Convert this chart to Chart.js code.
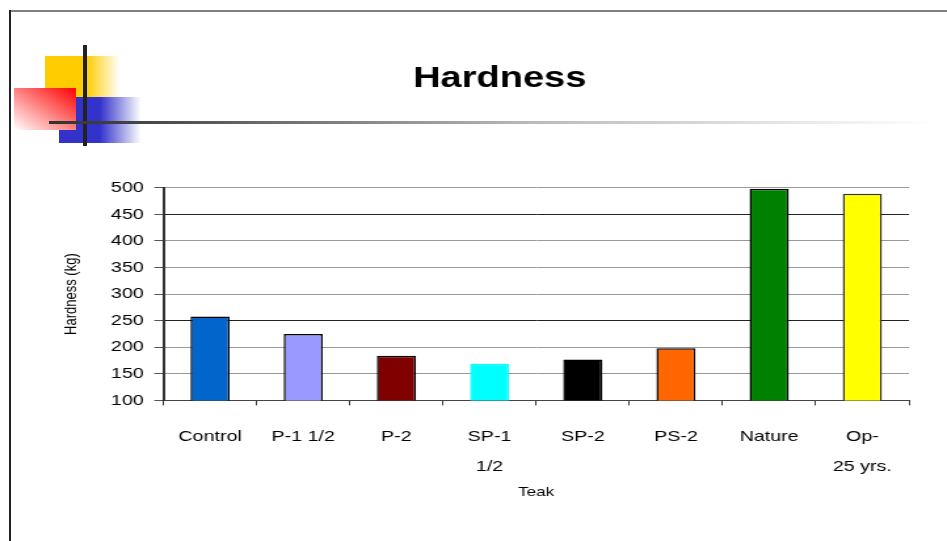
<!DOCTYPE html>
<html><head><meta charset="utf-8">
<script src="https://cdn.jsdelivr.net/npm/chart.js@4"></script>
<style>
html,body{margin:0;padding:0;background:#fff;width:947px;height:541px;overflow:hidden;position:relative}
.d{position:absolute}
#wrap{position:absolute;left:0;top:0;width:722px;height:541px;transform:scaleX(1.3116);transform-origin:0 0}
</style></head><body>
<div class="d" style="left:9px;top:10px;width:938px;height:2px;background:#808080"></div>
<div class="d" style="left:9px;top:10px;width:2px;height:531px;background:#222"></div>
<div class="d" style="left:45px;top:56px;width:75px;height:41px;background:linear-gradient(to right,#FFCC00 0%,#FFCC00 55%,rgba(255,204,0,0) 100%)"></div>
<div class="d" style="left:59px;top:97px;width:82px;height:46px;background:linear-gradient(to right,#3333CC 0%,#3333CC 50%,rgba(51,51,204,0) 100%)"></div>
<div class="d" style="left:14px;top:88px;width:62px;height:42px;background:linear-gradient(to bottom left,#FF0000 0%,#FFFFFF 100%)"></div>
<div class="d" style="left:83px;top:45px;width:4px;height:101px;background:#222"></div>
<div class="d" style="left:49px;top:121px;width:885px;height:3px;background:linear-gradient(to right,#333 0%,#444 10%,#bbb 55%,rgba(255,255,255,0) 100%)"></div>
<div id="wrap"><canvas id="c"></canvas></div>
<script>
const categories = ['Control', 'P-1 1/2', 'P-2', ['SP-1', '1/2'], 'SP-2', 'PS-2', 'Nature', ['Op-', '25 yrs.']];
const hardness = [258, 225, 184, 169, 177, 198, 498, 489];
const barColors = ['#0066CC', '#9999FF', '#800000', '#00FFFF', '#000000', '#FF6600', '#008000', '#FFFF00'];
const barBorders = ['#000', '#000', '#000', '#00FFFF', '#000', '#000', '#000', '#333'];
const chartTitle = 'Hardness';
const yTitle = 'Hardness (kg)';
const xTitle = 'Teak';

const FONT = "'Liberation Sans', Arial, sans-serif";
Chart.defaults.color = '#000';
Chart.defaults.font.family = FONT;

const shiftTitle = {
  id: 'shiftTitle',
  afterLayout(chart) { if (chart.titleBlock) chart.titleBlock.left += 26; }
};

new Chart(document.getElementById('c'), {
  type: 'bar',
  data: {
    labels: categories,
    datasets: [{
      data: hardness,
      backgroundColor: barColors,
      borderColor: barBorders,
      borderWidth: 1.5,
      barPercentage: 0.42,
      categoryPercentage: 1
    }]
  },
  options: {
    responsive: true,
    maintainAspectRatio: false,
    animation: false,
    layout: { padding: { left: 43, right: 29, top: 0, bottom: 37 } },
    plugins: {
      legend: { display: false },
      tooltip: { enabled: false },
      title: {
        display: true,
        text: chartTitle,
        font: { size: 29, weight: 'bold', family: FONT },
        color: '#000',
        padding: { top: 62, bottom: 91 }
      }
    },
    scales: {
      x: {
        grid: {
          offset: true,
          drawOnChartArea: true,
          color: ctx => (ctx.index === 0 || ctx.index === categories.length) ? '#999' : 'rgba(0,0,0,0)',
          tickColor: '#333',
          tickLength: 5
        },
        border: { color: '#444', width: 1 },
        ticks: { font: { size: 15, lineHeight: 2 }, padding: 16, maxRotation: 0, autoSkip: false },
        title: { display: true, text: xTitle, font: { size: 13 }, padding: { top: -13, bottom: 4 } }
      },
      y: {
        min: 100,
        max: 500,
        ticks: { stepSize: 50, font: { size: 15 }, padding: 8 },
        grid: {
          color: ctx => (ctx.tick && (ctx.tick.value === 250 || ctx.tick.value === 450)) ? '#222' : '#999',
          tickColor: '#555',
          tickLength: 7
        },
        border: { color: '#333', width: 2 },
        title: { display: true, text: yTitle, font: { size: 13 }, padding: { top: 4, bottom: 14 } }
      }
    }
  },
  plugins: [shiftTitle]
});
</script>
</body></html>
